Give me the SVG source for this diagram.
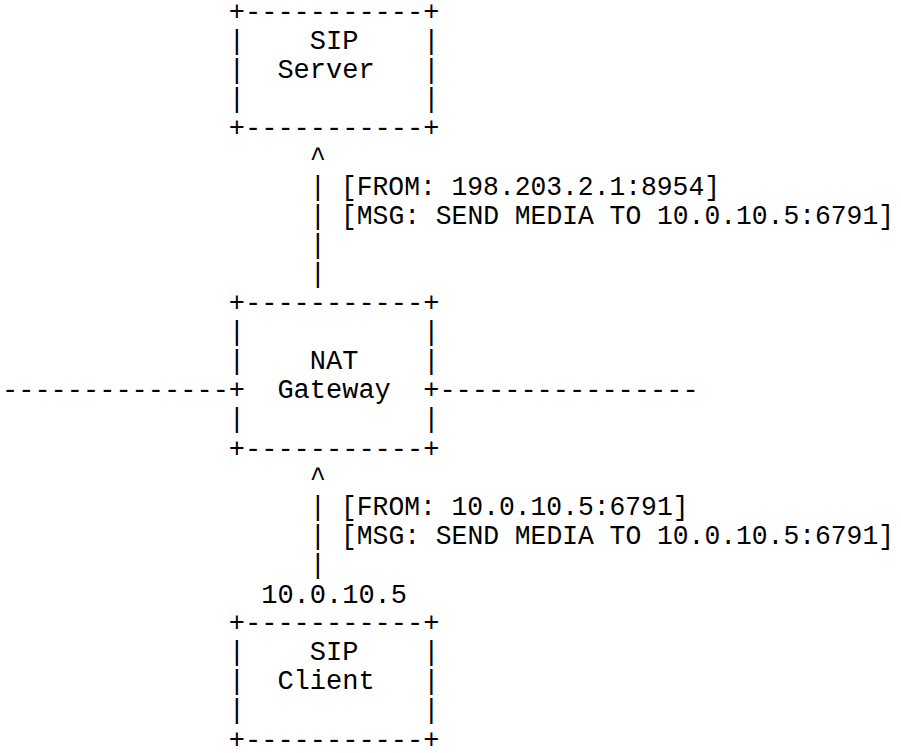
<svg xmlns="http://www.w3.org/2000/svg" width="901" height="753" viewBox="0 0 901 753">
<style>
text{font-family:"Liberation Mono","Courier New",monospace;font-size:27px;fill:#000;white-space:pre}
</style>
<rect x="0" y="0" width="901" height="753" fill="#fff"/>
<g id="sip-server">
<text x="228.8" y="20" xml:space="preserve">+-----------+</text>
<text x="228.8" y="49.1" xml:space="preserve">|    SIP    |</text>
<text x="228.8" y="78.2" xml:space="preserve">|  Server   |</text>
<text x="228.8" y="107.3" xml:space="preserve">|           |</text>
<text x="228.8" y="136.4" xml:space="preserve">+-----------+</text>
</g>
<g id="nat-gateway">
<text x="228.8" y="311" xml:space="preserve">+-----------+</text>
<text x="228.8" y="340.1" xml:space="preserve">|           |</text>
<text x="228.8" y="369.2" xml:space="preserve">|    NAT    |</text>
<text x="228.8" y="398.3" xml:space="preserve">+  Gateway  +</text>
<text x="228.8" y="427.4" xml:space="preserve">|           |</text>
<text x="228.8" y="456.5" xml:space="preserve">+-----------+</text>
</g>
<g id="sip-client">
<text x="261.2" y="603" xml:space="preserve">10.0.10.5</text>
<text x="228.8" y="631.1" xml:space="preserve">+-----------+</text>
<text x="228.8" y="660.2" xml:space="preserve">|    SIP    |</text>
<text x="228.8" y="689.3" xml:space="preserve">|  Client   |</text>
<text x="228.8" y="718.4" xml:space="preserve">|           |</text>
<text x="228.8" y="747.5" xml:space="preserve">+-----------+</text>
</g>
<g id="connectors">
<text x="309.8" y="165.5">^</text>
<text x="309.8" y="194.6">|</text>
<text x="309.8" y="223.7">|</text>
<text x="309.8" y="252.8">|</text>
<text x="309.8" y="281.9">|</text>
<text x="309.8" y="485.6">^</text>
<text x="309.8" y="514.7">|</text>
<text x="309.8" y="543.8">|</text>
<text x="309.8" y="572.9">|</text>
<text x="2" y="398.3">--------------</text>
<text x="439.4" y="398.3">----------------</text>
</g>
<g id="labels">
<text x="341" y="194.6" textLength="379" lengthAdjust="spacingAndGlyphs">[FROM: 198.203.2.1:8954]</text>
<text x="341" y="223.7" textLength="553" lengthAdjust="spacingAndGlyphs">[MSG: SEND MEDIA TO 10.0.10.5:6791]</text>
<text x="341" y="514.7" textLength="347.5" lengthAdjust="spacingAndGlyphs">[FROM: 10.0.10.5:6791]</text>
<text x="341" y="543.8" textLength="553" lengthAdjust="spacingAndGlyphs">[MSG: SEND MEDIA TO 10.0.10.5:6791]</text>
</g>
</svg>
